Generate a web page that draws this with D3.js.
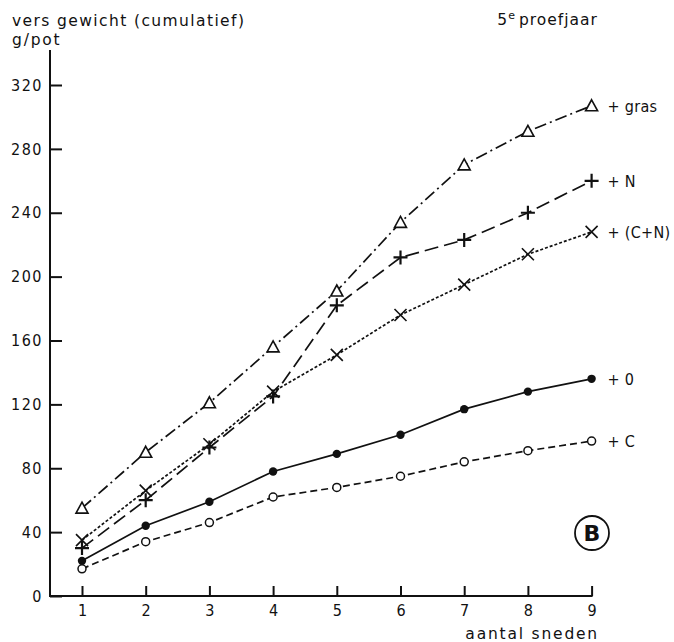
<!DOCTYPE html>
<html>
<head>
<meta charset="utf-8">
<script src="https://cdn.jsdelivr.net/npm/d3@7"></script>
<style>
  body { margin: 0; background: #fff; }
  svg text { font-family: "DejaVu Sans", sans-serif; fill: #111; }
  .tick text, text.reeks { font-family: "DejaVu Sans Condensed", "DejaVu Sans", sans-serif; }
</style>
</head>
<body>
<svg id="chart" width="674" height="642"></svg>
<script>
// aantal sneden en tick-waarden
const sneden = [1, 2, 3, 4, 5, 6, 7, 8, 9];
const yTicks = [0, 40, 80, 120, 160, 200, 240, 280, 320];

const gras   = [55, 90, 121, 156, 191, 234, 270, 291, 307];
const plusN  = [30, 60, 93, 125, 182, 212, 223, 240, 260];
const plusCN = [35, 66, 95, 128, 151, 176, 195, 214, 228];
const plus0  = [22, 44, 59, 78, 89, 101, 117, 128, 136];
const plusC  = [17, 34, 46, 62, 68, 75, 84, 91, 97];

const labels = ["+ gras", "+ N", "+ (C+N)", "+ 0", "+ C"];

const series = [
    { name: labels[0], values: gras,   dash: "12,4,2,4", marker: "triangle" },
    { name: labels[1], values: plusN,  dash: "14,6",     marker: "plus" },
    { name: labels[2], values: plusCN, dash: "3,2",      marker: "cross" },
    { name: labels[3], values: plus0,  dash: null,       marker: "dot" },
    { name: labels[4], values: plusC,  dash: "7,4",      marker: "circle" }
];

const svg = d3.select("#chart");

const x = d3.scaleLinear().domain([1, 9]).range([82, 591.6]);
const y = d3.scaleLinear().domain([0, 320]).range([596, 85]);

// assen
const yAxis = svg.append("g")
    .attr("transform", "translate(50,0)")
    .call(d3.axisLeft(y).tickValues(yTicks).tickSizeInner(-12).tickSizeOuter(0).tickPadding(7));
yAxis.select(".domain").remove();
yAxis.selectAll("line").attr("stroke", "#111").attr("stroke-width", 2);
yAxis.selectAll("text").style("font-size", "16px").style("letter-spacing", "1.5px").attr("fill", "#111");

const xAxis = svg.append("g")
    .attr("transform", "translate(0,596)")
    .call(d3.axisBottom(x).tickValues(sneden).tickSizeInner(-10).tickSizeOuter(0).tickPadding(9).tickFormat(d3.format("d")));
xAxis.select(".domain").remove();
xAxis.selectAll("line").attr("stroke", "#111").attr("stroke-width", 2);
xAxis.selectAll("text").style("font-size", "16px").attr("fill", "#111");

svg.append("line")
    .attr("x1", 50).attr("x2", 50)
    .attr("y1", 50).attr("y2", y(0) + 1)
    .attr("stroke", "#111").attr("stroke-width", 2);
svg.append("line")
    .attr("x1", 49).attr("x2", x(9) + 1)
    .attr("y1", y(0)).attr("y2", y(0))
    .attr("stroke", "#111").attr("stroke-width", 2);

// titels
svg.append("text").attr("x", 12).attr("y", 26)
    .style("font-size", "15.5px").style("letter-spacing", "1.4px")
    .text("vers gewicht (cumulatief)");
svg.append("text").attr("x", 12).attr("y", 45)
    .style("font-size", "15.5px").style("letter-spacing", "1.8px")
    .text("g/pot");

const jaar = svg.append("text").attr("x", 598).attr("y", 25)
    .attr("text-anchor", "end")
    .style("font-size", "15.5px").style("letter-spacing", "1px");
jaar.append("tspan").text("5");
jaar.append("tspan").attr("dy", -6).style("font-size", "11px").text("e");
jaar.append("tspan").attr("dy", 6).attr("dx", 3).text("proefjaar");

svg.append("text").attr("x", 599).attr("y", 639)
    .attr("text-anchor", "end")
    .style("font-size", "15.5px").style("letter-spacing", "1.8px")
    .text("aantal sneden");

// lijnen
const line = d3.line()
    .x((d, i) => x(sneden[i]))
    .y(d => y(d));

series.forEach(s => {
    svg.append("path")
        .datum(s.values)
        .attr("d", line)
        .attr("fill", "none")
        .attr("stroke", "#111")
        .attr("stroke-width", 1.7)
        .attr("stroke-dasharray", s.dash);
});

// markers
series.forEach(s => {
    const g = svg.append("g");
    s.values.forEach((v, i) => {
        const cx = x(sneden[i]), cy = y(v);
        if (s.marker === "triangle") {
            g.append("path")
                .attr("d", `M${cx},${cy - 6}L${cx + 6},${cy + 5}L${cx - 6},${cy + 5}Z`)
                .attr("fill", "#fff").attr("stroke", "#111").attr("stroke-width", 1.6);
        } else if (s.marker === "plus") {
            g.append("path")
                .attr("d", `M${cx - 7},${cy}H${cx + 7}M${cx},${cy - 7}V${cy + 7}`)
                .attr("stroke", "#111").attr("stroke-width", 2.2);
        } else if (s.marker === "cross") {
            g.append("path")
                .attr("d", `M${cx - 6},${cy - 6}L${cx + 6},${cy + 6}M${cx + 6},${cy - 6}L${cx - 6},${cy + 6}`)
                .attr("stroke", "#111").attr("stroke-width", 1.6);
        } else if (s.marker === "dot") {
            g.append("circle").attr("cx", cx).attr("cy", cy).attr("r", 4.2).attr("fill", "#111");
        } else {
            g.append("circle").attr("cx", cx).attr("cy", cy).attr("r", 4)
                .attr("fill", "#fff").attr("stroke", "#111").attr("stroke-width", 1.5);
        }
    });
    svg.append("text")
        .attr("class", "reeks")
        .attr("x", x(9) + 16)
        .attr("y", y(s.values[s.values.length - 1]) + 6)
        .style("font-size", "16px").style("letter-spacing", "0.3px")
        .text(s.name);
});

// omcirkelde B
svg.append("circle").attr("cx", 592).attr("cy", 533).attr("r", 17)
    .attr("fill", "none").attr("stroke", "#111").attr("stroke-width", 1.8);
svg.append("text").attr("x", 592).attr("y", 541)
    .attr("text-anchor", "middle")
    .style("font-size", "22px").style("font-weight", "bold")
    .text("B");
</script>
</body>
</html>
